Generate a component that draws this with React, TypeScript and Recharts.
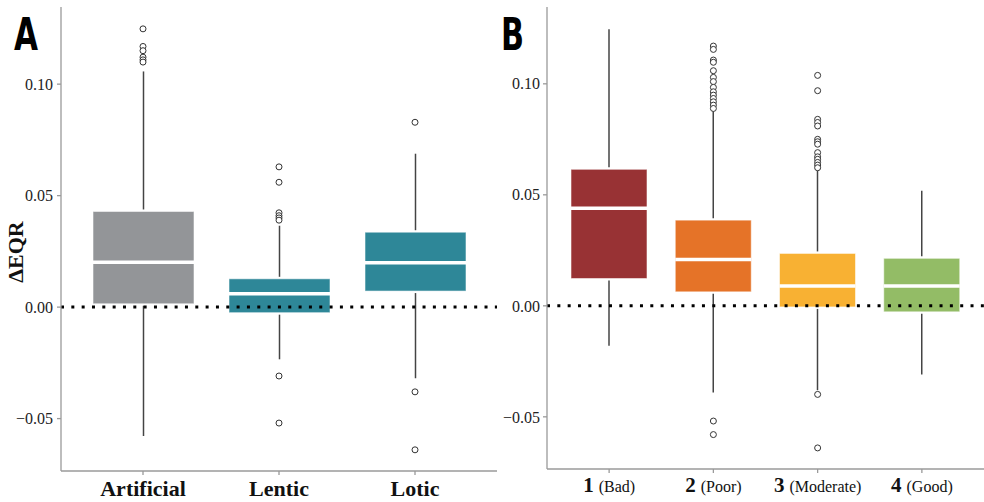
import React from 'react';
import { ComposedChart, Bar, Scatter, XAxis, YAxis, ReferenceLine } from 'recharts';

// ---------- Panel A data ----------
const catsA = ['Artificial', 'Lentic', 'Lotic'];
const whiskerLowA = [-0.0578, -0.0234, -0.0319];
const q1A = [0.0015, -0.0025, 0.0072];
const medianA = [0.0201, 0.006, 0.0199];
const q3A = [0.0429, 0.0127, 0.0336];
const whiskerHighA = [0.1057, 0.0365, 0.0688];
const outliersA = [
  [0.1248, 0.1169, 0.115, 0.1121, 0.1109, 0.1099],
  [0.0629, 0.056, 0.0423, 0.041, 0.04, 0.039, -0.0309, -0.052],
  [0.0829, -0.038, -0.064],
];

// ---------- Panel B data ----------
const catsB = ['1', '2', '3', '4'];
const gradesB = ['Bad', 'Poor', 'Moderate', 'Good'];
const whiskerLowB = [-0.018, -0.039, -0.038, -0.0309];
const q1B = [0.0123, 0.0063, -0.0005, -0.0027];
const medianB = [0.0439, 0.0209, 0.0089, 0.0089];
const q3B = [0.0615, 0.0386, 0.0236, 0.0214];
const whiskerHighB = [0.1246, 0.0882, 0.0619, 0.0518];
const outliersB = [
  [],
  [0.117, 0.1155, 0.1107, 0.1097, 0.1059, 0.1029, 0.101, 0.0984, 0.0964, 0.0949, 0.0934, 0.0919, 0.0904, 0.0889, -0.0519, -0.058],
  [0.1038, 0.0969, 0.084, 0.0826, 0.081, 0.075, 0.0739, 0.0728, 0.069, 0.0671, 0.066, 0.0646, 0.0634, 0.0622, -0.0399, -0.064],
  [],
];

const yTicks = [-0.05, 0, 0.05, 0.1];
const yDomain: [number, number] = [-0.0735, 0.1346];

// ---------- styles ----------
const colorsA = ['#939598', '#2E8798', '#2E8798'];
const colorsB = ['#983234', '#E57328', '#F8B133', '#93BC66'];
const SERIF = '"Liberation Serif", "DejaVu Serif", serif';
const AXIS = '#9a9a9a';

const dataA = catsA.map((cat, i) => ({
  cat, lo: whiskerLowA[i], q1: q1A[i], med: medianA[i], q3: q3A[i], hi: whiskerHighA[i], color: colorsA[i], out: outliersA[i],
}));
const dataB = catsB.map((cat, i) => ({
  cat, lo: whiskerLowB[i], q1: q1B[i], med: medianB[i], q3: q3B[i], hi: whiskerHighB[i], color: colorsB[i], out: outliersB[i],
}));
const maxOutA = Math.max(...outliersA.map((o) => o.length));
const maxOutB = Math.max(...outliersB.map((o) => o.length));

const rangeKey = (d: any) => [d.lo, d.hi];

const BoxShape = (props: any) => {
  const { x, y, width, height, payload } = props;
  if (payload == null || !isFinite(height) || !isFinite(y)) return null;
  const { lo, hi, q1, med, q3, color } = payload;
  const k = height / (hi - lo);
  const py = (v: number) => y + (hi - v) * k;
  const cx = x + width / 2;
  const top = py(q3);
  const bot = py(q1);
  return (
    <g>
      <line x1={cx} x2={cx} y1={py(hi)} y2={top - 2} stroke="#444" strokeWidth={1.5} />
      <line x1={cx} x2={cx} y1={bot + 2} y2={py(lo)} stroke="#444" strokeWidth={1.5} />
      <rect x={x} y={top} width={width} height={bot - top} fill={color} stroke="rgba(255,255,255,0.55)" strokeWidth={1} />
      <line x1={x} x2={x + width} y1={py(med)} y2={py(med)} stroke="#ffffff" strokeWidth={3.5} />
    </g>
  );
};

const Outlier = (props: any) => {
  const { cx, cy } = props;
  if (cx == null || cy == null || !isFinite(cx) || !isFinite(cy)) return null;
  return <circle cx={cx} cy={cy} r={3} fill="#ffffff" stroke="#333" strokeWidth={1} />;
};

const fmt = (v: number) => (v < 0 ? '\u2212' : '') + Math.abs(v).toFixed(2);

const TickA = (props: any) => {
  const { x, y, payload } = props;
  return (
    <text x={x} y={y + 19} textAnchor="middle" fontFamily={SERIF} fontWeight={700} fontSize={22} fill="#111">
      {payload.value}
    </text>
  );
};

const TickB = (props: any) => {
  const { x, y, payload } = props;
  const idx = catsB.indexOf(payload.value);
  return (
    <text x={x} y={y + 17} textAnchor="middle" fontFamily={SERIF} fill="#111">
      <tspan fontWeight={700} fontSize={21}>{payload.value}</tspan>
      <tspan fontSize={16} dx={5}>({gradesB[idx]})</tspan>
    </text>
  );
};

const yTickStyle = { fontFamily: SERIF, fontSize: 16, fill: '#222' };

const YLabel = () => (
  <text x={23} y={252} transform="rotate(-90, 23, 252)" textAnchor="middle" fontFamily={SERIF} fontWeight={700} fontSize={22} fill="#111">
    ΔEQR
  </text>
);

const outlierSeries = (n: number) =>
  Array.from({ length: n }, (_, j) => (
    <Scatter
      key={`o${j}`}
      dataKey={(d: any) => (j < d.out.length ? d.out[j] : null)}
      shape={<Outlier />}
      isAnimationActive={false}
    />
  ));

export default function App() {
  return (
    <div style={{ position: 'absolute', left: 0, top: 0, width: 984, height: 502, background: '#fff', overflow: 'hidden' }}>
      <div style={{ position: 'absolute', left: 0, top: 0 }}>
        <ComposedChart width={500} height={502} data={dataA} margin={{ top: 7, right: 3, left: 0, bottom: 0 }}>
          <XAxis
            dataKey="cat"
            type="category"
            height={31}
            padding={{ left: 14, right: 14 }}
            stroke={AXIS}
            strokeWidth={1.3}
            tickSize={4}
            tickMargin={2}
            tick={<TickA />}
            interval={0}
          />
          <YAxis
            type="number"
            domain={yDomain}
            allowDataOverflow
            ticks={yTicks}
            tickFormatter={fmt}
            width={61}
            stroke={AXIS}
            strokeWidth={1.3}
            tickSize={4}
            tickMargin={4}
            tick={yTickStyle}
            label={{ content: <YLabel /> }}
          />
          <Bar dataKey={rangeKey} barSize={101} shape={<BoxShape />} isAnimationActive={false} />
          {outlierSeries(maxOutA)}
          <ReferenceLine y={0} stroke="#000" strokeWidth={3} strokeDasharray="3 7.33" />
        </ComposedChart>
      </div>
      <div style={{ position: 'absolute', left: 500, top: 0 }}>
        <ComposedChart width={484} height={502} data={dataB} margin={{ top: 7, right: 0, left: 0, bottom: 0 }}>
          <XAxis
            dataKey="cat"
            type="category"
            height={33}
            padding={{ left: 10, right: 10 }}
            stroke={AXIS}
            strokeWidth={1.3}
            tickSize={4}
            tickMargin={2}
            tick={<TickB />}
            interval={0}
          />
          <YAxis
            type="number"
            domain={yDomain}
            allowDataOverflow
            ticks={yTicks}
            tickFormatter={fmt}
            width={47}
            stroke={AXIS}
            strokeWidth={1.3}
            tickSize={4}
            tickMargin={3}
            tick={yTickStyle}
          />
          <Bar dataKey={rangeKey} barSize={76} shape={<BoxShape />} isAnimationActive={false} />
          {outlierSeries(maxOutB)}
          <ReferenceLine y={0} stroke="#000" strokeWidth={3} strokeDasharray="3 7.33" />
        </ComposedChart>
      </div>
      <svg width={984} height={502} style={{ position: 'absolute', left: 0, top: 0, pointerEvents: 'none' }}>
        <text x={14} y={50} fontFamily='"DejaVu Sans Condensed", "DejaVu Sans", sans-serif' fontWeight={900} fontSize={44} textLength={24} lengthAdjust="spacingAndGlyphs" fill="#000">A</text>
        <text x={501} y={50} fontFamily='"DejaVu Sans Condensed", "DejaVu Sans", sans-serif' fontWeight={900} fontSize={44} textLength={23} lengthAdjust="spacingAndGlyphs" fill="#000">B</text>
      </svg>
    </div>
  );
}
